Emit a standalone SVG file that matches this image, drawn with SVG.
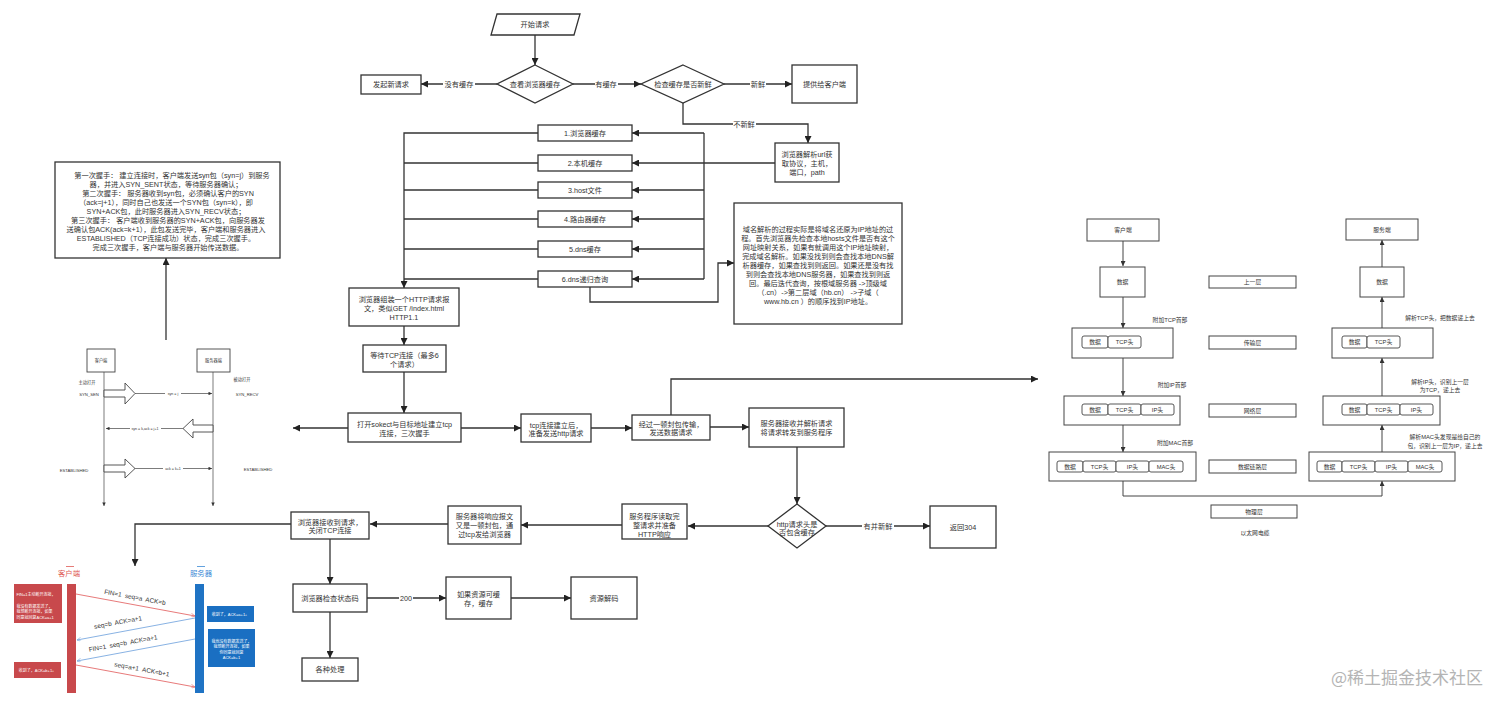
<svg xmlns="http://www.w3.org/2000/svg" width="1512" height="707" viewBox="0 0 1512 707">
<style>
.b{fill:#fff;stroke:#333;stroke-width:1.3}
.nb{fill:#fff;stroke:#444;stroke-width:1}
.ib{fill:#fff;stroke:#444;stroke-width:0.9}
.c{fill:none;stroke:#333;stroke-width:1.3}
.cn{fill:none;stroke:#444;stroke-width:1}
.ch{fill:none;stroke:#444;stroke-width:0.7}
.t{font-family:"Liberation Sans","Noto Sans CJK SC",sans-serif;font-size:7.2px;fill:#333;text-anchor:middle;dominant-baseline:central}
.n{font-size:5.8px}
.h{font-size:4.2px}
.s{font-size:3.6px}
.lbg{fill:#fff}
.w{fill:#fff;font-size:4px;text-anchor:start}
.wc{fill:#fff;font-size:4px}
.f{font-size:6.4px;fill:#333;white-space:pre}
</style>
<defs>
<marker id="ah" viewBox="0 0 10 10" refX="10" refY="5" markerWidth="8" markerHeight="7" markerUnits="userSpaceOnUse" orient="auto"><path d="M0,0 L10,5 L0,10 z" fill="#222"/></marker>
<marker id="as" viewBox="0 0 10 10" refX="10" refY="5" markerWidth="6" markerHeight="5" markerUnits="userSpaceOnUse" orient="auto"><path d="M0,0 L10,5 L0,10 z" fill="#333"/></marker>
<marker id="at" viewBox="0 0 10 10" refX="10" refY="5" markerWidth="4" markerHeight="3.5" markerUnits="userSpaceOnUse" orient="auto"><path d="M0,0 L10,5 L0,10 z" fill="#333"/></marker>
<marker id="ar" viewBox="0 0 10 10" refX="10" refY="5" markerWidth="6" markerHeight="4" markerUnits="userSpaceOnUse" orient="auto"><path d="M0,0 L10,5 L0,10" fill="none" stroke="#e46b6b" stroke-width="1.5"/></marker>
<marker id="ab" viewBox="0 0 10 10" refX="10" refY="5" markerWidth="6" markerHeight="4" markerUnits="userSpaceOnUse" orient="auto"><path d="M0,0 L10,5 L0,10" fill="none" stroke="#7aa9e0" stroke-width="1.5"/></marker>
</defs>
<rect width="1512" height="707" fill="#fff"/>

<g id="connectors">
<path class="c" d="M535,35 V65" marker-end="url(#ah)"/>
<path class="c" d="M497,84 H421" marker-end="url(#ah)"/>
<path class="c" d="M573,84 H641" marker-end="url(#ah)"/>
<path class="c" d="M724,84 H792" marker-end="url(#ah)"/>
<path class="c" d="M683,103 V124 H808 V143" marker-end="url(#ah)"/>
<path class="c" d="M775,163 H704"/>
<path class="c" d="M704,133 V279"/>
<path class="c" d="M704,133 H632" marker-end="url(#ah)"/>
<path class="c" d="M704,163 H632" marker-end="url(#ah)"/>
<path class="c" d="M704,190 H632" marker-end="url(#ah)"/>
<path class="c" d="M704,219 H632" marker-end="url(#ah)"/>
<path class="c" d="M704,249 H632" marker-end="url(#ah)"/>
<path class="c" d="M704,279 H632" marker-end="url(#ah)"/>
<path class="c" d="M538,133 H404 V288" marker-end="url(#ah)"/>
<path class="c" d="M538,163 H404"/>
<path class="c" d="M538,190 H404"/>
<path class="c" d="M538,219 H404"/>
<path class="c" d="M538,249 H404"/>
<path class="c" d="M538,279 H404"/>
<path class="c" d="M590,287 V302 H718 V263 H734" marker-end="url(#ah)"/>
<path class="c" d="M404,326 V345" marker-end="url(#ah)"/>
<path class="c" d="M404,372 V413" marker-end="url(#ah)"/>
<path class="c" d="M348,428 H293" marker-end="url(#ah)"/>
<path class="c" d="M461,428 H521" marker-end="url(#ah)"/>
<path class="c" d="M591,428 H632" marker-end="url(#ah)"/>
<path class="c" d="M671,415 V379 H1038" marker-end="url(#ah)"/>
<path class="c" d="M710,427 H749" marker-end="url(#ah)"/>
<path class="c" d="M797,447 V504" marker-end="url(#ah)"/>
<path class="c" d="M826,526 H930" marker-end="url(#ah)"/>
<path class="c" d="M768,526 H688" marker-end="url(#ah)"/>
<path class="c" d="M622,525 H521" marker-end="url(#ah)"/>
<path class="c" d="M448,524 H370" marker-end="url(#ah)"/>
<path class="c" d="M291,524 H135 V566" marker-end="url(#ah)"/>
<path class="c" d="M330,539 V584" marker-end="url(#ah)"/>
<path class="c" d="M367,598 H446" marker-end="url(#ah)"/>
<path class="c" d="M511,598 H571" marker-end="url(#ah)"/>
<path class="c" d="M330,612 V658" marker-end="url(#ah)"/>
<path class="c" d="M166,340 V258" marker-end="url(#ah)"/>
<rect class="lbg" x="443" y="79" width="32" height="10"/>
<text class="t" x="459" y="84">没有缓存</text>
<rect class="lbg" x="595" y="79" width="23" height="10"/>
<text class="t" x="606" y="84">有缓存</text>
<rect class="lbg" x="750" y="79" width="16" height="10"/>
<text class="t" x="758" y="84">新鲜</text>
<rect class="lbg" x="733" y="119" width="23" height="10"/>
<text class="t" x="744" y="124">不新鲜</text>
<rect class="lbg" x="862" y="521" width="32" height="10"/>
<text class="t" x="878" y="526">有并新鲜</text>
<rect class="lbg" x="399" y="593" width="14" height="10"/>
<text class="t" x="406" y="598">200</text>
<path class="cn" d="M1123,241 V266" marker-end="url(#as)"/>
<path class="cn" d="M1123,297 V328" marker-end="url(#as)"/>
<path class="cn" d="M1123,358 V396" marker-end="url(#as)"/>
<path class="cn" d="M1123,425 V452" marker-end="url(#as)"/>
<path class="cn" d="M1123,481 V496 H1382 V481" marker-end="url(#as)"/>
<path class="cn" d="M1382,452 V425" marker-end="url(#as)"/>
<path class="cn" d="M1382,396 V358" marker-end="url(#as)"/>
<path class="cn" d="M1382,328 V297" marker-end="url(#as)"/>
<path class="cn" d="M1382,267 V240" marker-end="url(#as)"/>
<path class="ch" d="M104,372 V506" marker-end="url(#at)"/>
<path class="ch" d="M213,372 V506" marker-end="url(#at)"/>
<path class="ch" d="M135,393.5 H212" marker-end="url(#at)"/>
<path class="ch" d="M183,428.5 H106" marker-end="url(#at)"/>
<path class="ch" d="M135,468.5 H212" marker-end="url(#at)"/>
<path d="M76,594 L195,616" stroke="#e46b6b" stroke-width="0.9" fill="none" marker-end="url(#ar)"/>
<path d="M195,618 L77,640" stroke="#7aa9e0" stroke-width="0.9" fill="none" marker-end="url(#ab)"/>
<path d="M195,639 L77,661" stroke="#7aa9e0" stroke-width="0.9" fill="none" marker-end="url(#ab)"/>
<path d="M76,665 L195,687" stroke="#e46b6b" stroke-width="0.9" fill="none" marker-end="url(#ar)"/>
</g>

<g id="n-start"><polygon class="b" points="497,14 580,14 574,35 491,35"/><text class="t" x="535" y="24.5">开始请求</text></g>
<g id="n-check-cache"><polygon class="b" points="535,65 573,84 535,103 497,84"/><text class="t" x="535" y="84">查看浏览器缓存</text></g>
<g id="n-new-request"><rect class="b" x="361" y="75" width="60" height="19"/><text class="t" x="391" y="84.5">发起新请求</text></g>
<g id="n-fresh"><polygon class="b" points="683,65 724,84 683,103 641,84"/><text class="t" x="683" y="84">检查缓存是否新鲜</text></g>
<g id="n-provide"><rect class="b" x="792" y="65" width="65" height="38"/><text class="t" x="824.5" y="84">提供给客户端</text></g>
<g id="n-parse-url"><rect class="b" x="775" y="143" width="64" height="39"/><text class="t" x="807" y="154">浏览器解析url获</text><text class="t" x="807" y="163">取协议，主机，</text><text class="t" x="807" y="172">端口，path</text></g>
<g id="n-c1"><rect class="b" x="538" y="125" width="94" height="16"/><text class="t" x="585" y="133">1.浏览器缓存</text></g>
<g id="n-c2"><rect class="b" x="538" y="155" width="94" height="16"/><text class="t" x="585" y="163">2.本机缓存</text></g>
<g id="n-c3"><rect class="b" x="538" y="182" width="94" height="16"/><text class="t" x="585" y="190">3.host文件</text></g>
<g id="n-c4"><rect class="b" x="538" y="211" width="94" height="16"/><text class="t" x="585" y="219">4.路由器缓存</text></g>
<g id="n-c5"><rect class="b" x="538" y="241" width="94" height="16"/><text class="t" x="585" y="249">5.dns缓存</text></g>
<g id="n-c6"><rect class="b" x="538" y="271" width="94" height="16"/><text class="t" x="585" y="279">6.dns递归查询</text></g>
<g id="n-dns-note"><rect class="b" x="734" y="203" width="168" height="121"/>
<text class="t" x="818" y="229">域名解析的过程实际是将域名还原为IP地址的过</text>
<text class="t" x="818" y="238">程。首先浏览器先检查本地hosts文件是否有这个</text>
<text class="t" x="818" y="247">网址映射关系，如果有就调用这个IP地址映射，</text>
<text class="t" x="818" y="256">完成域名解析。如果没找到则会查找本地DNS解</text>
<text class="t" x="818" y="265">析器缓存，如果查找到则返回。如果还是没有找</text>
<text class="t" x="818" y="274">到则会查找本地DNS服务器，如果查找到则返</text>
<text class="t" x="818" y="283">回。最后迭代查询，按根域服务器 -&gt;顶级域</text>
<text class="t" x="818" y="292">（.cn）-&gt;第二层域（hb.cn） -&gt;子域（</text>
<text class="t" x="818" y="301">www.hb.cn ）的顺序找到IP地址。</text></g>
<g id="n-http-msg"><rect class="b" x="349" y="288" width="110" height="38"/><text class="t" x="404" y="299">浏览器组装一个HTTP请求报</text><text class="t" x="404" y="308">文，类似GET /index.html</text><text class="t" x="404" y="317">HTTP1.1</text></g>
<g id="n-wait-tcp"><rect class="b" x="363" y="345" width="83" height="27"/><text class="t" x="404.5" y="355">等待TCP连接（最多6</text><text class="t" x="404.5" y="364.5">个请求）</text></g>
<g id="n-socket"><rect class="b" x="348" y="413" width="113" height="29"/><text class="t" x="404.5" y="424">打开sokect与目标地址建立tcp</text><text class="t" x="404.5" y="433.5">连接，三次握手</text></g>
<g id="n-tcp-ready"><rect class="b" x="521" y="414" width="70" height="28"/><text class="t" x="556" y="425">tcp连接建立后，</text><text class="t" x="556" y="433.5">准备发送http请求</text></g>
<g id="n-packet"><rect class="b" x="632" y="415" width="78" height="25"/><text class="t" x="671" y="424">经过一顿封包传输，</text><text class="t" x="671" y="432.5">发送数据请求</text></g>
<g id="n-server-recv"><rect class="b" x="749" y="408" width="95" height="39"/><text class="t" x="796.5" y="423">服务器接收并解析请求</text><text class="t" x="796.5" y="432.5">将请求转发到服务程序</text></g>
<g id="n-has-cache"><polygon class="b" points="797,504 826,526 797,548 768,526"/><text class="t" x="797" y="524">http请求头是</text><text class="t" x="797" y="532">否包含缓存</text></g>
<g id="n-304"><rect class="b" x="930" y="506" width="66" height="42"/><text class="t" x="963" y="527">返回304</text></g>
<g id="n-server-resp"><rect class="b" x="622" y="504" width="65" height="35"/><text class="t" x="654.5" y="516.5">服务程序读取完</text><text class="t" x="654.5" y="525.5">整请求并准备</text><text class="t" x="654.5" y="534">HTTP响应</text></g>
<g id="n-resp-send"><rect class="b" x="448" y="506" width="73" height="38"/><text class="t" x="484.5" y="516.5">服务器将响应报文</text><text class="t" x="484.5" y="525.5">又是一顿封包，通</text><text class="t" x="484.5" y="534.5">过tcp发给浏览器</text></g>
<g id="n-browser-recv"><rect class="b" x="291" y="512" width="78" height="27"/><text class="t" x="330" y="522">浏览器接收到请求，</text><text class="t" x="330" y="530.5">关闭TCP连接</text></g>
<g id="n-status"><rect class="b" x="293" y="584" width="74" height="28"/><text class="t" x="330" y="598">浏览器检查状态码</text></g>
<g id="n-cacheable"><rect class="b" x="446" y="577" width="65" height="42"/><text class="t" x="478.5" y="594.5">如果资源可缓</text><text class="t" x="478.5" y="603.5">存，缓存</text></g>
<g id="n-decode"><rect class="b" x="571" y="577" width="66" height="42"/><text class="t" x="604" y="598">资源解码</text></g>
<g id="n-other"><rect class="b" x="302" y="658" width="56" height="23"/><text class="t" x="330" y="669.5">各种处理</text></g>

<g id="n-handshake-note"><rect class="b" x="55" y="162" width="225" height="96"/>
<text class="t" x="172" y="175">第一次握手： 建立连接时，客户端发送syn包（syn=j）到服务</text>
<text class="t" x="166" y="184">器，并进入SYN_SENT状态，等待服务器确认；</text>
<text class="t" x="168" y="193">第二次握手： 服务器收到syn包，必须确认客户的SYN</text>
<text class="t" x="166" y="202">（ack=j+1），同时自己也发送一个SYN包（syn=k），即</text>
<text class="t" x="166" y="211">SYN+ACK包，此时服务器进入SYN_RECV状态；</text>
<text class="t" x="168" y="220.5">第三次握手： 客户端收到服务器的SYN+ACK包，向服务器发</text>
<text class="t" x="166" y="229.5">送确认包ACK(ack=k+1），此包发送完毕，客户端和服务器进入</text>
<text class="t" x="166" y="238.5">ESTABLISHED（TCP连接成功）状态，完成三次握手。</text>
<text class="t" x="168" y="247.5">完成三次握手，客户端与服务器开始传送数据。</text></g>

<g id="n-handshake">
<rect class="ib" x="87" y="349" width="28" height="23"/><text class="t h" x="101" y="360.5">客户端</text>
<rect class="ib" x="197" y="349" width="33" height="23"/><text class="t h" x="213.5" y="360.5">服务器端</text>
<text class="t h" x="87" y="382.5">主动打开</text>
<text class="t h" x="89" y="394">SYN_SEN</text>
<text class="t h" x="242" y="379">被动打开</text>
<text class="t h" x="247" y="394">SYN_RECV</text>
<text class="t h" x="74" y="470.5">ESTABLISHED</text>
<text class="t h" x="258" y="469">ESTABLISHED</text>
<polygon class="ib" points="104,390 125,390 125,383 135,393.5 125,404 125,397 104,397"/>
<polygon class="ib" points="213,425 193,425 193,419 183,428.5 193,438 193,432 213,432"/>
<polygon class="ib" points="104,465 125,465 125,459 135,468.5 125,478 125,472 104,472"/>
<rect class="lbg" x="165" y="391.5" width="16" height="4"/><text class="t s" x="173" y="393.5">syn = j</text>
<rect class="lbg" x="130" y="426.5" width="31" height="4"/><text class="t s" x="145" y="428.5">syn = k,ack = j+1</text>
<rect class="lbg" x="163" y="466.5" width="20" height="4"/><text class="t s" x="173" y="468.5">ack = k+1</text>
</g>

<g id="n-four-wave">
<line x1="66" y1="566.5" x2="74" y2="566.5" stroke="#e05a55" stroke-width="0.8"/>
<line x1="197" y1="566.5" x2="205" y2="566.5" stroke="#3b8ad6" stroke-width="0.8"/>
<text class="t" x="69" y="573.5" style="fill:#e05a55;font-size:7.4px">客户端</text>
<text class="t" x="201" y="573.5" style="fill:#3b8ad6;font-size:7.4px">服务器</text>
<rect x="67" y="584" width="9" height="109" fill="#c8494c"/>
<rect x="195" y="584" width="9" height="109" fill="#1f73c4"/>
<rect x="14" y="584" width="48" height="39" fill="#c8494c"/>
<text class="t w" x="16.5" y="594.5">FIN=1主动断开连接，</text>
<text class="t w" x="16.5" y="606.5">我没有数据发送了，</text>
<text class="t w" x="16.5" y="611.8">我想断开连接，如果</text>
<text class="t w" x="16.5" y="617.2">同意就回复ACK=a+1</text>
<rect x="14" y="662" width="47" height="16" fill="#c8494c"/>
<text class="t wc" x="37.5" y="670">收到了，ACK=b+1。</text>
<rect x="207" y="606" width="47" height="16" fill="#1a6fc2"/>
<text class="t wc" x="230.5" y="614">收到了，ACK=a+1。</text>
<rect x="208" y="629" width="47" height="38" fill="#1a6fc2"/>
<text class="t wc" x="231.5" y="641">我也没有数据发送了，</text>
<text class="t wc" x="231.5" y="646.5">我想断开连接，如果</text>
<text class="t wc" x="231.5" y="652">你同意就回复</text>
<text class="t wc" x="231.5" y="657.5">ACK=b+1</text>
<text class="t f" x="135" y="597" transform="rotate(10.5 135 597)">FIN=1  seq=a  ACK=b</text>
<text class="t f" x="118" y="622" transform="rotate(-10.5 118 622)">seq=b  ACK=a+1</text>
<text class="t f" x="123" y="643" transform="rotate(-10.5 123 643)">FIN=1  seq=b  ACK=a+1</text>
<text class="t f" x="142" y="669" transform="rotate(10.5 142 669)">seq=a+1  ACK=b+1</text>
</g>

<g id="n-net-client"><rect class="nb" x="1087" y="219" width="72" height="22"/><text class="t n" x="1123" y="230">客户端</text></g>
<g id="n-net-data-l"><rect class="nb" x="1100" y="267" width="45" height="30"/><text class="t n" x="1122.5" y="282">数据</text></g>
<g id="n-net-tcp-l"><rect class="nb" x="1072" y="328" width="101" height="30"/>
<rect class="ib" x="1082" y="336" width="26" height="12" rx="2"/><text class="t n" x="1095" y="342">数据</text>
<rect class="ib" x="1108" y="336" width="33" height="12" rx="2"/><text class="t n" x="1124.5" y="342">TCP头</text></g>
<g id="n-net-ip-l"><rect class="nb" x="1064" y="396" width="116" height="29"/>
<rect class="ib" x="1082" y="404" width="26" height="11" rx="2"/><text class="t n" x="1095" y="409.5">数据</text>
<rect class="ib" x="1108" y="404" width="33" height="11" rx="2"/><text class="t n" x="1124.5" y="409.5">TCP头</text>
<rect class="ib" x="1141" y="404" width="33" height="11" rx="2"/><text class="t n" x="1157.5" y="409.5">IP头</text></g>
<g id="n-net-mac-l"><rect class="nb" x="1049" y="452" width="147" height="29"/>
<rect class="ib" x="1057" y="461" width="26" height="11" rx="2"/><text class="t n" x="1070" y="466.5">数据</text>
<rect class="ib" x="1083" y="461" width="33" height="11" rx="2"/><text class="t n" x="1099.5" y="466.5">TCP头</text>
<rect class="ib" x="1116" y="461" width="33" height="11" rx="2"/><text class="t n" x="1132.5" y="466.5">IP头</text>
<rect class="ib" x="1149" y="461" width="34" height="11" rx="2"/><text class="t n" x="1166" y="466.5">MAC头</text></g>
<g id="n-layers">
<rect class="nb" x="1209" y="276" width="87" height="12"/><text class="t n" x="1252.5" y="282">上一层</text>
<rect class="nb" x="1209" y="336" width="87" height="13"/><text class="t n" x="1252.5" y="342.5">传输层</text>
<rect class="nb" x="1209" y="404" width="87" height="13"/><text class="t n" x="1252.5" y="410.5">网络层</text>
<rect class="nb" x="1209" y="460" width="87" height="13"/><text class="t n" x="1252.5" y="466.5">数据链路层</text>
<rect class="nb" x="1211" y="505" width="86" height="13"/><text class="t n" x="1254" y="511.5">物理层</text>
<text class="t n" x="1255" y="533">以太网电缆</text>
<text class="t n" x="1170" y="320">附加TCP首部</text>
<text class="t n" x="1172" y="385">附加IP首部</text>
<text class="t n" x="1175" y="443">附加MAC首部</text>
<text class="t n" x="1440" y="318">解析TCP头，把数据递上去</text>
<text class="t n" x="1440" y="381.5">解析IP头，识别上一层</text>
<text class="t n" x="1440" y="390">为TCP，递上去</text>
<text class="t n" x="1445" y="437">解析MAC头发现是给自己的</text>
<text class="t n" x="1445" y="445.5">包，识别上一层为IP，递上去</text></g>
<g id="n-net-server"><rect class="nb" x="1346" y="219" width="72" height="21"/><text class="t n" x="1382" y="229.5">服务端</text></g>
<g id="n-net-data-r"><rect class="nb" x="1360" y="267" width="44" height="30"/><text class="t n" x="1382" y="282">数据</text></g>
<g id="n-net-tcp-r"><rect class="nb" x="1332" y="328" width="101" height="30"/>
<rect class="ib" x="1342" y="336" width="25" height="12" rx="2"/><text class="t n" x="1354.5" y="342">数据</text>
<rect class="ib" x="1367" y="336" width="33" height="12" rx="2"/><text class="t n" x="1383.5" y="342">TCP头</text></g>
<g id="n-net-ip-r"><rect class="nb" x="1323" y="396" width="117" height="29"/>
<rect class="ib" x="1342" y="404" width="25" height="11" rx="2"/><text class="t n" x="1354.5" y="409.5">数据</text>
<rect class="ib" x="1367" y="404" width="33" height="11" rx="2"/><text class="t n" x="1383.5" y="409.5">TCP头</text>
<rect class="ib" x="1400" y="404" width="33" height="11" rx="2"/><text class="t n" x="1416.5" y="409.5">IP头</text></g>
<g id="n-net-mac-r"><rect class="nb" x="1309" y="452" width="146" height="29"/>
<rect class="ib" x="1317" y="461" width="25" height="11" rx="2"/><text class="t n" x="1329.5" y="466.5">数据</text>
<rect class="ib" x="1342" y="461" width="33" height="11" rx="2"/><text class="t n" x="1358.5" y="466.5">TCP头</text>
<rect class="ib" x="1375" y="461" width="33" height="11" rx="2"/><text class="t n" x="1391.5" y="466.5">IP头</text>
<rect class="ib" x="1408" y="461" width="34" height="11" rx="2"/><text class="t n" x="1425" y="466.5">MAC头</text></g>

<text x="1331" y="684" style="font-family:'Noto Sans CJK SC',sans-serif;font-size:17px;fill:#b4b4b4">@稀土掘金技术社区</text>
</svg>
